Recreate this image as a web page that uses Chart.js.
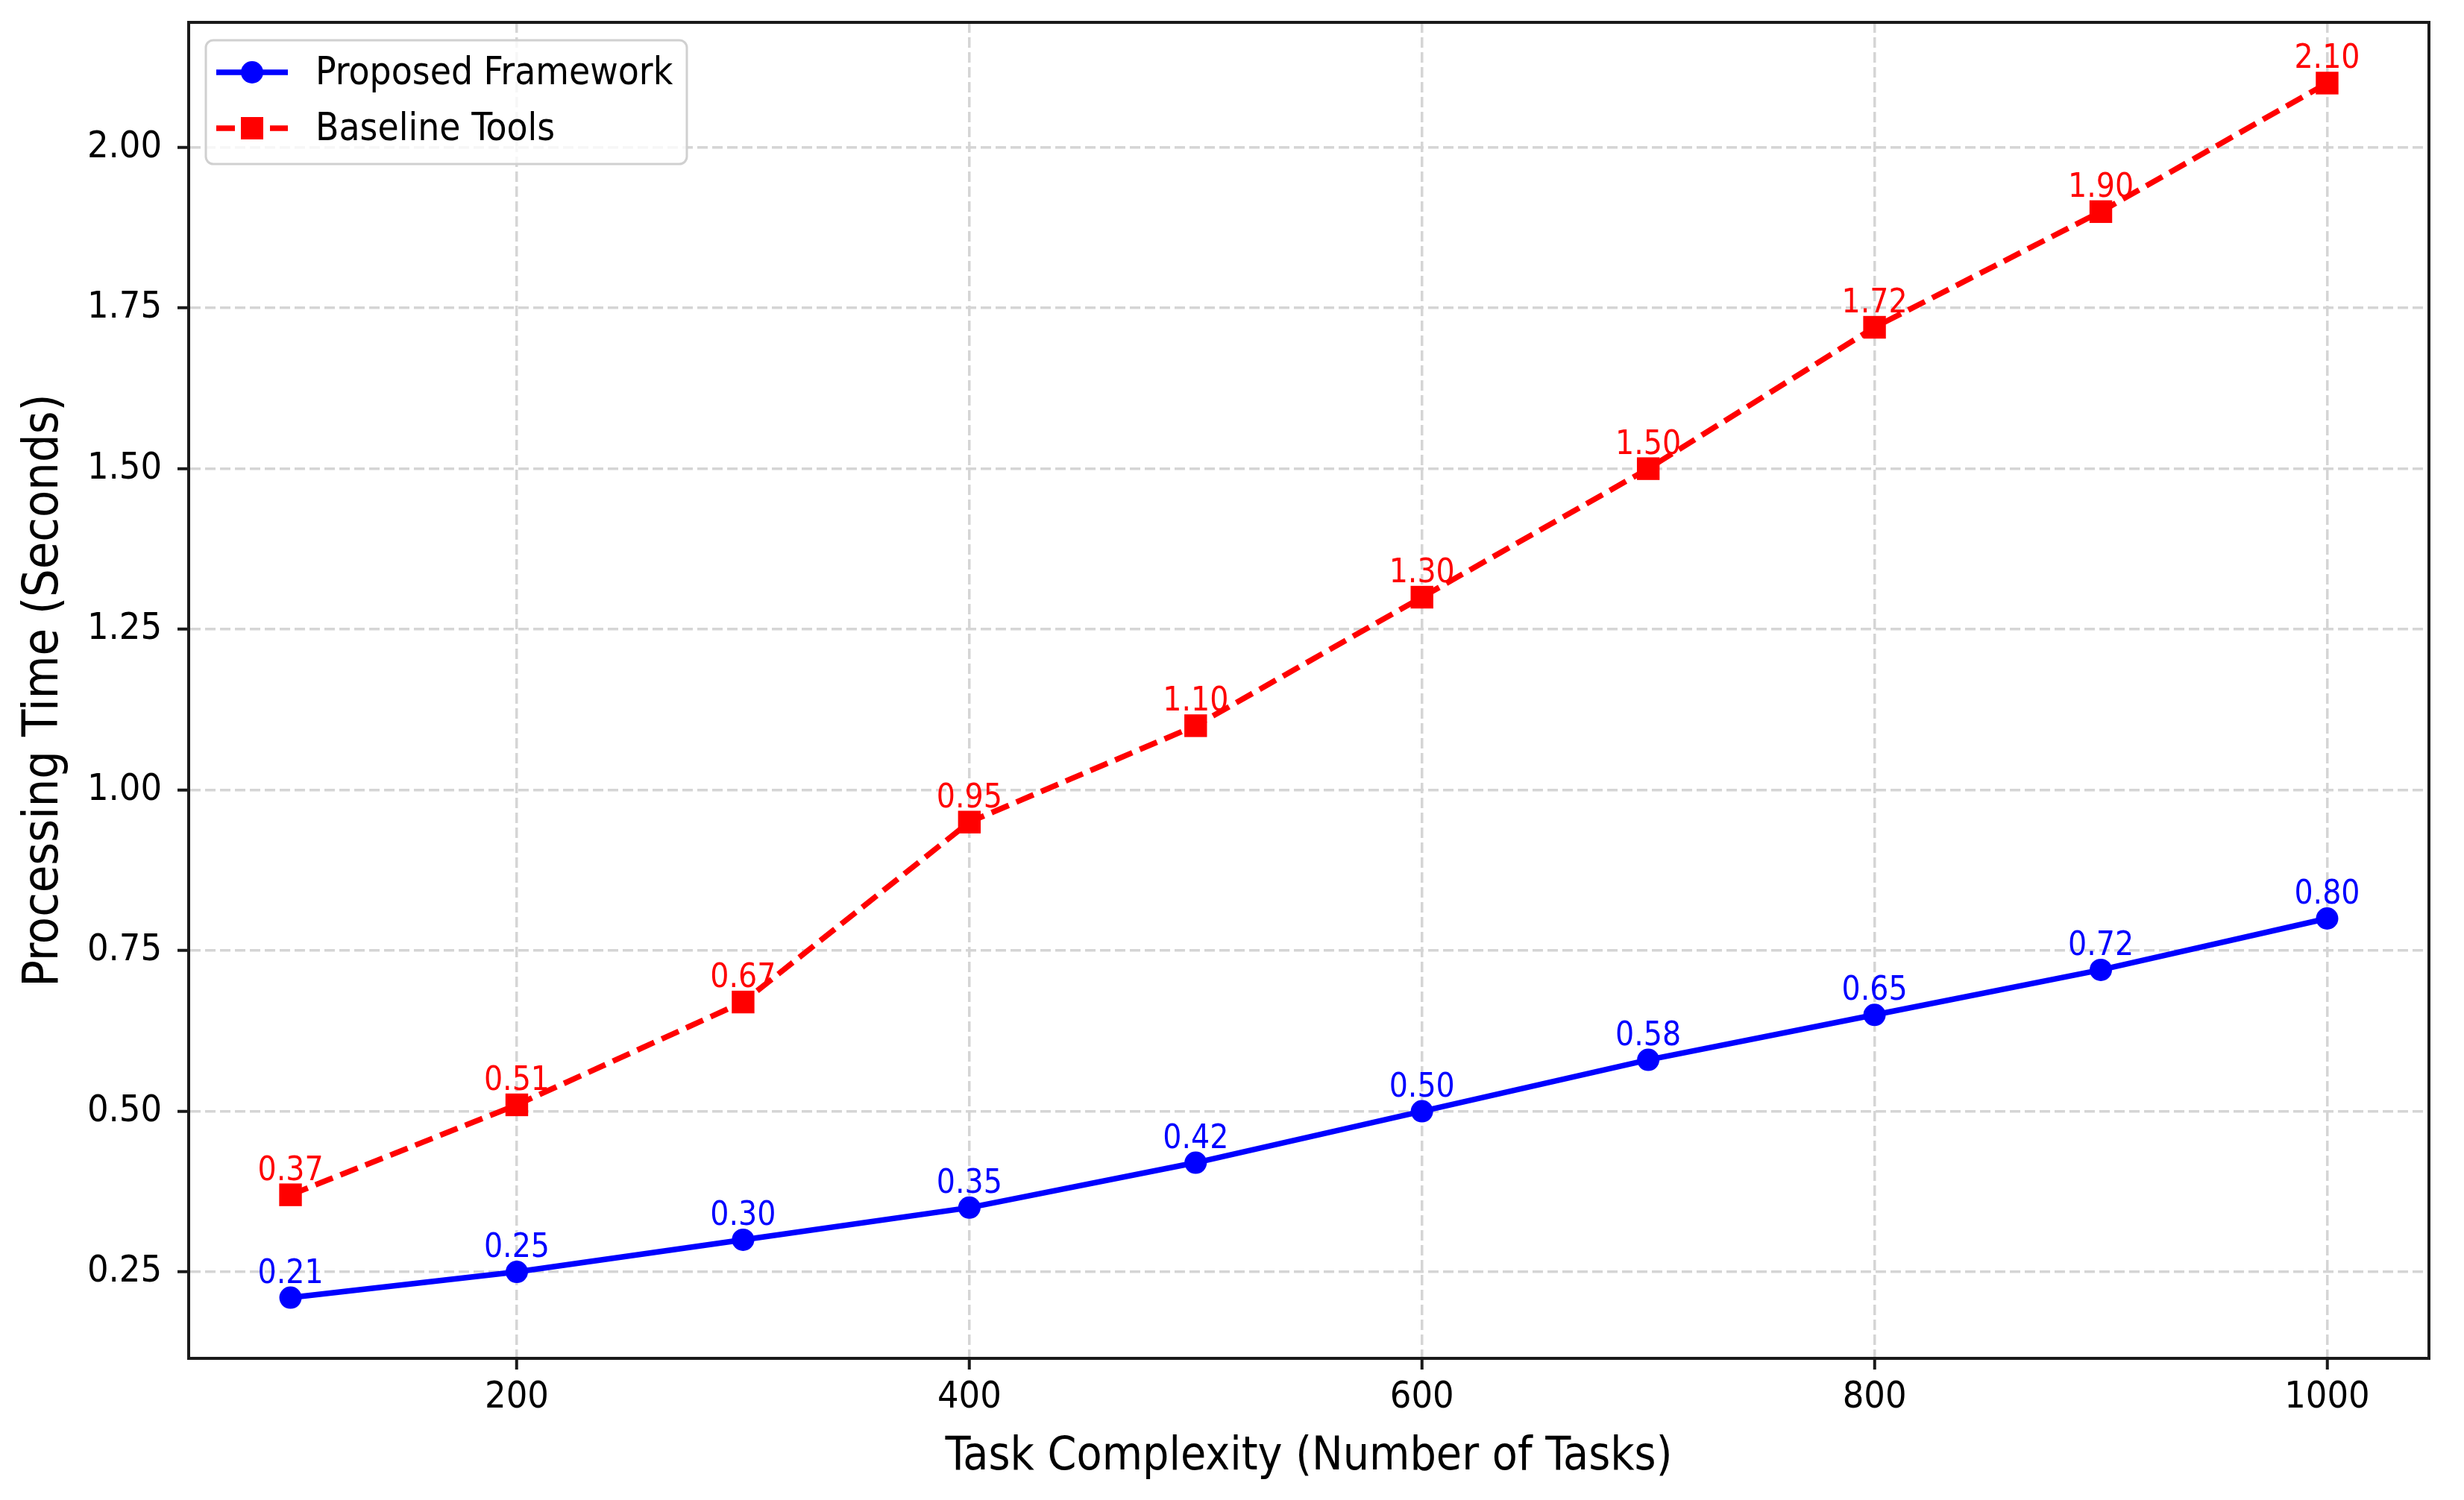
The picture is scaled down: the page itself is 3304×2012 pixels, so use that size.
<!DOCTYPE html>
<html><head><meta charset="utf-8">
<script src="https://cdn.jsdelivr.net/npm/chart.js@4.4.1/dist/chart.umd.min.js"></script>
<style>html,body{margin:0;padding:0;background:#fff;} canvas{display:block;}</style>
</head><body>
<canvas id="c" width="3304" height="2012" style="width:3304px;height:2012px"></canvas>
<script>
const taskCounts = [100, 200, 300, 400, 500, 600, 700, 800, 900, 1000];
const proposedTimes = [0.21, 0.25, 0.30, 0.35, 0.42, 0.50, 0.58, 0.65, 0.72, 0.80];
const baselineTimes = [0.37, 0.51, 0.67, 0.95, 1.10, 1.30, 1.50, 1.72, 1.90, 2.10];
const seriesNames = ['Proposed Framework', 'Baseline Tools'];
const xTickValues = [200, 400, 600, 800, 1000];
const yTickValues = [0.25, 0.50, 0.75, 1.00, 1.25, 1.50, 1.75, 2.00];
const xTitle = 'Task Complexity (Number of Tasks)';
const yTitle = 'Processing Time (Seconds)';

const FONT = '"DejaVu Sans Condensed", "DejaVu Sans", sans-serif';
Chart.defaults.font.family = FONT;
const SPINE = '#1a1a1a';

const toXY = ys => taskCounts.map((x, i) => ({x: x, y: ys[i]}));

const overlay = {
  id: 'overlay',
  afterDatasetsDraw(chart) {
    const ctx = chart.ctx;
    const a = chart.chartArea;
    ctx.save();
    // frame (all four spines)
    ctx.lineWidth = 4;
    ctx.strokeStyle = SPINE;
    ctx.setLineDash([]);
    ctx.strokeRect(a.left, a.top, a.right - a.left, a.bottom - a.top);
    // value labels
    ctx.font = '44px ' + FONT;
    ctx.textAlign = 'center';
    ctx.textBaseline = 'alphabetic';
    chart.data.datasets.forEach((ds, di) => {
      const meta = chart.getDatasetMeta(di);
      ctx.fillStyle = ds.borderColor;
      meta.data.forEach((pt, i) => {
        ctx.fillText(ds.data[i].y.toFixed(2), pt.x, pt.y - 20);
      });
    });
    // legend
    const lx = 276, ly = 54, lw = 645, lh = 166, r = 10;
    ctx.beginPath();
    ctx.moveTo(lx + r, ly);
    ctx.arcTo(lx + lw, ly, lx + lw, ly + lh, r);
    ctx.arcTo(lx + lw, ly + lh, lx, ly + lh, r);
    ctx.arcTo(lx, ly + lh, lx, ly, r);
    ctx.arcTo(lx, ly, lx + lw, ly, r);
    ctx.closePath();
    ctx.fillStyle = 'rgba(255,255,255,0.8)';
    ctx.fill();
    ctx.lineWidth = 3;
    ctx.strokeStyle = '#d0d0d0';
    ctx.stroke();
    const rows = [97, 172];
    chart.data.datasets.forEach((ds, di) => {
      const y = rows[di];
      ctx.strokeStyle = ds.borderColor;
      ctx.fillStyle = ds.borderColor;
      ctx.lineWidth = ds.borderWidth;
      ctx.setLineDash(ds.borderDash || []);
      ctx.beginPath();
      ctx.moveTo(290, y);
      ctx.lineTo(386, y);
      ctx.stroke();
      ctx.setLineDash([]);
      if (ds.pointStyle === 'rect') {
        ctx.fillRect(338 - 15, y - 15, 30, 30);
      } else {
        ctx.beginPath();
        ctx.arc(338, y, 15, 0, Math.PI * 2);
        ctx.fill();
      }
      ctx.fillStyle = '#000';
      ctx.font = '51px ' + FONT;
      ctx.textAlign = 'left';
      ctx.textBaseline = 'alphabetic';
      ctx.fillText(ds.label, 423, y + 16);
    });
    ctx.restore();
  }
};

function noPad(s) { s.paddingTop = 0; s.paddingBottom = 0; s.paddingLeft = 0; s.paddingRight = 0; }

new Chart(document.getElementById('c').getContext('2d'), {
  type: 'line',
  data: {
    datasets: [
      {label: seriesNames[0], data: toXY(proposedTimes), borderColor: '#0000ff', backgroundColor: '#0000ff',
       borderWidth: 7.5, pointStyle: 'circle', pointRadius: 15, pointHoverRadius: 15, pointBorderWidth: 0,
       tension: 0, fill: false},
      {label: seriesNames[1], data: toXY(baselineTimes), borderColor: '#ff0000', backgroundColor: '#ff0000',
       borderWidth: 7.5, borderDash: [25, 11], pointStyle: 'rect', pointRadius: 21.5, pointHoverRadius: 21.5,
       pointBorderWidth: 0, tension: 0, fill: false}
    ]
  },
  options: {
    responsive: false, animation: false, devicePixelRatio: 1, events: [],
    layout: {padding: {left: 0, top: 30, right: 47, bottom: 0}},
    plugins: {legend: {display: false}, tooltip: {enabled: false}},
    scales: {
      x: {
        type: 'linear', min: 55, max: 1045,
        afterFit(s) { s.height = 190; noPad(s); },
        afterBuildTicks(s) { s.ticks = xTickValues.map(v => ({value: v})); },
        ticks: {font: {size: 50}, color: '#000', padding: 8, maxRotation: 0, autoSkip: false,
                callback: v => String(v)},
        grid: {color: '#d5d5d5', lineWidth: 3.5, tickLength: 15, tickWidth: 4, tickColor: SPINE, tickBorderDash: []},
        border: {display: true, color: SPINE, width: 4, dash: [14, 6]},
        title: {display: true, text: xTitle, font: {size: 62}, color: '#000', padding: {top: 0, bottom: 20}}
      },
      y: {
        type: 'linear', min: 0.1155, max: 2.1945,
        afterFit(s) { s.width = 253; noPad(s); },
        afterBuildTicks(s) { s.ticks = yTickValues.map(v => ({value: v})); },
        ticks: {font: {size: 50}, color: '#000', padding: 21, autoSkip: false,
                callback: v => Number(v).toFixed(2)},
        grid: {color: '#d5d5d5', lineWidth: 3.5, tickLength: 15, tickWidth: 4, tickColor: SPINE, tickBorderDash: []},
        border: {display: true, color: SPINE, width: 4, dash: [14, 6]},
        title: {display: true, text: yTitle, font: {size: 66}, color: '#000', padding: {top: 20, bottom: 0}}
      }
    }
  },
  plugins: [overlay]
});
</script>
</body></html>
